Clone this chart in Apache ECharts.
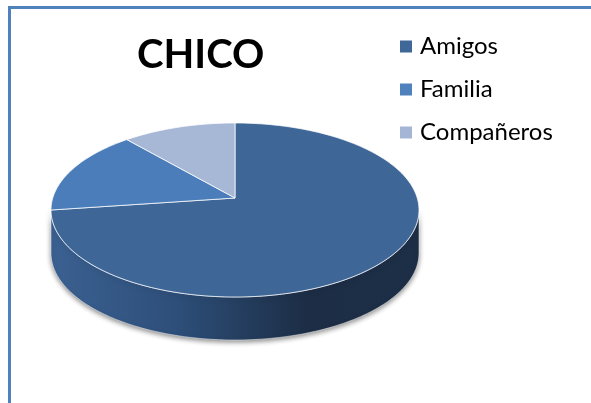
<!DOCTYPE html>
<html>
<head>
<meta charset="utf-8">
<script src="https://cdn.jsdelivr.net/npm/echarts@6/dist/echarts.min.js"></script>
<style>
  html, body { margin: 0; padding: 0; background: #fff; }
  #chart { width: 591px; height: 403px; }
</style>
</head>
<body>
<div id="chart"></div>
<script>
// datos del grafico
var categories = ['Amigos', 'Familia', 'Compañeros'];
var values = [75, 15, 10];
var topColors = ['#3E6797', '#4A7DBA', '#A7B7D6'];
var legendColors = ['#3F6797', '#4F81BD', '#A5B5D6'];

var chart = echarts.init(document.getElementById('chart'));

// geometria del pastel 3D
var cx = 235, cy = 210, rx = 184, ry = 87, hubDy = -12, depth = 43;
var total = values.reduce(function (a, b) { return a + b; }, 0);

function pt(deg, dy) {
    var r = deg * Math.PI / 180;
    return [cx + rx * Math.cos(r), cy + dy + ry * Math.sin(r)];
}

function arc(a, b, dy) {
    var pts = [];
    var n = Math.max(2, Math.ceil(Math.abs(b - a)));
    for (var i = 0; i <= n; i++) {
        pts.push(pt(a + (b - a) * i / n, dy));
    }
    return pts;
}

function renderSlice(params, api) {
    var idx = params.seriesIndex;
    var before = 0;
    for (var i = 0; i < idx; i++) before += values[i];
    var a = -90 + before / total * 360;
    var b = a + api.value(0) / total * 360;
    var children = [];

    // lado visible (parte frontal, 0..180 grados)
    var sa = Math.max(a, 0), sb = Math.min(b, 180);
    if (sb > sa) {
        var sidePts = arc(sa, sb, 0).concat(arc(sb, sa, depth));
        children.push({
            type: 'polygon',
            shape: { points: sidePts },
            style: {
                fill: new echarts.graphic.LinearGradient(0, 0, 1, 0, [
                    { offset: 0, color: '#3B6192' },
                    { offset: 0.35, color: '#2D4E78' },
                    { offset: 0.7, color: '#1C2D45' },
                    { offset: 1, color: '#1D2F47' }
                ]),
                stroke: 'rgba(255,255,255,0.6)',
                lineWidth: 0.8,
                shadowBlur: 5,
                shadowColor: 'rgba(0,0,0,0.45)',
                shadowOffsetY: 2
            }
        });
    }

    // cara superior
    var topPts = [[cx, cy + hubDy]].concat(arc(a, b, 0));
    children.push({
        type: 'polygon',
        shape: { points: topPts },
        style: {
            fill: topColors[idx],
            stroke: 'rgba(255,255,255,0.75)',
            lineWidth: 1
        }
    });
    return { type: 'group', children: children };
}

var series = categories.map(function (name, i) {
    return {
        name: name,
        type: 'custom',
        coordinateSystem: 'none',
        renderItem: renderSlice,
        itemStyle: { color: legendColors[i] },
        data: [[values[i]]],
        silent: true
    };
});

var option = {
    animation: false,
    backgroundColor: '#fff',
    title: {
        text: 'CHICO',
        left: 137,
        top: 35,
        padding: 0,
        textStyle: {
            fontFamily: 'Lato',
            fontWeight: 'bold',
            fontSize: 40,
            color: '#000'
        }
    },
    legend: {
        orient: 'vertical',
        left: 400,
        top: 33,
        padding: 0,
        itemWidth: 12,
        itemHeight: 12,
        itemGap: 16,
        icon: 'rect',
        data: categories,
        textStyle: {
            fontFamily: 'Lato',
            fontSize: 24,
            lineHeight: 27,
            color: '#000',
            padding: [0, 0, 0, 3]
        }
    },
    graphic: [{
        type: 'rect',
        silent: true,
        shape: { x: 9.5, y: 7.5, width: 700, height: 500 },
        style: { fill: 'none', stroke: '#4F81BD', lineWidth: 3 }
    }],
    series: series
};

chart.setOption(option);
</script>
</body>
</html>
